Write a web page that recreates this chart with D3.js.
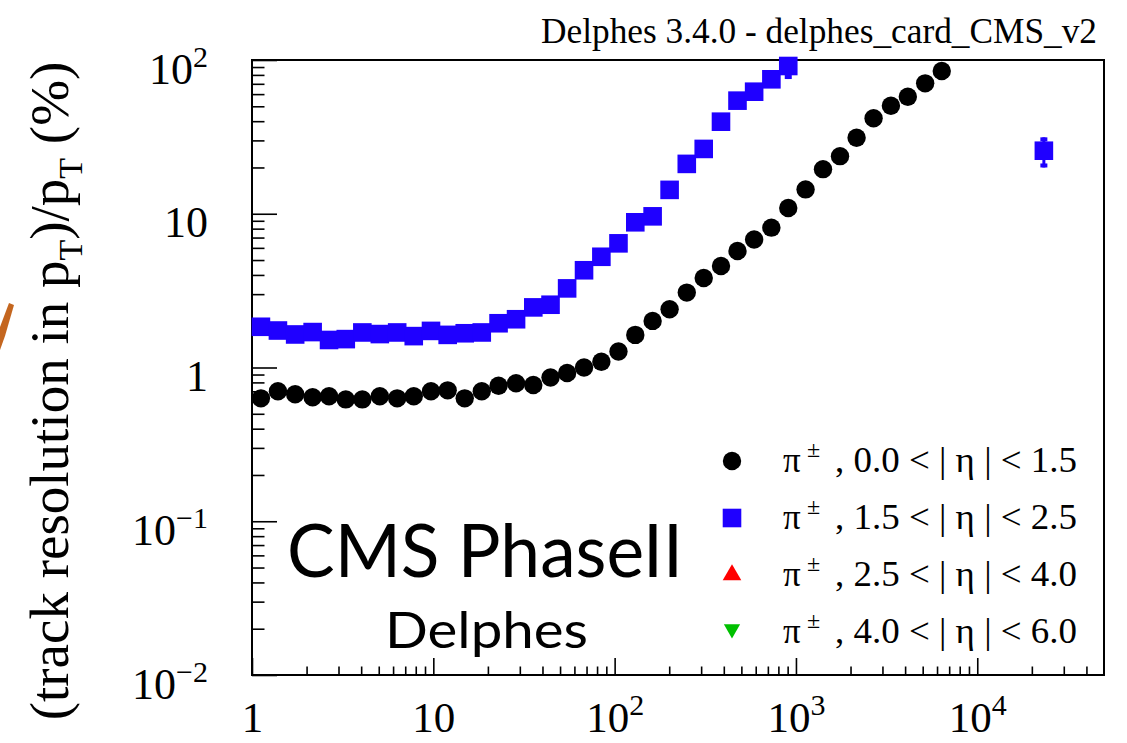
<!DOCTYPE html>
<html>
<head>
<meta charset="utf-8">
<script src="https://cdn.jsdelivr.net/npm/d3@7"></script>
<style>
  html, body { margin: 0; padding: 0; background: #fff; }
  svg { display: block; }
</style>
</head>
<body>
<div id="chart"></div>
<script>
// pT bin centres (GeV)
var ptBins = [1.12, 1.39, 1.73, 2.16, 2.66, 3.29, 4.06, 5.07, 6.32, 7.80,
    9.71, 12.0, 14.9, 18.5, 22.9, 28.6, 35.6, 44.3, 54.7, 67.8,
    84.5, 105, 130, 162, 201, 250, 310, 386, 476, 588,
    732, 907, 1130, 1410, 1750, 2160, 2680, 3340, 4140, 5160, 6370];

// resolution (%) for pi+-, 0.0 < |eta| < 1.5
var resBarrel = [0.63, 0.70, 0.67, 0.64, 0.65, 0.62, 0.62, 0.65, 0.63, 0.65,
    0.70, 0.71, 0.63, 0.70, 0.76, 0.79, 0.77, 0.86, 0.92, 1.00,
    1.09, 1.27, 1.63, 2.01, 2.39, 3.07, 3.82, 4.57, 5.73, 6.80,
    8.12, 10.9, 14.4, 19.5, 23.7, 31.2, 41.8, 50.4, 57.7, 70.5, 84.8];

// resolution (%) for pi+-, 1.5 < |eta| < 2.5 (first 32 bins)
var resEndcap = [1.84, 1.74, 1.64, 1.70, 1.51, 1.53, 1.69, 1.65, 1.69, 1.60,
    1.73, 1.63, 1.67, 1.69, 1.94, 2.06, 2.46, 2.56, 3.27, 4.29,
    5.25, 6.42, 8.80, 9.62, 14.3, 21.1, 26.4, 39.7, 54.4, 62.2,
    74.9, 91.4];
// lone high pT endcap point
var ptEndcapExtra = [23300];
var resEndcapExtra = [25.7];

// visible error bars of the endcap series
var errPt = [907, 23300];
var errLo = [75.2, 20.0];
var errHi = [108, 31.4];

// forward series have no point inside the frame
var resForward = [];
var resVeryForward = [];

var legendLabels = ['0.0 < | \u03b7 | < 1.5', '1.5 < | \u03b7 | < 2.5',
    '2.5 < | \u03b7 | < 4.0', '4.0 < | \u03b7 | < 6.0'];

var xMajor = [1, 10, 100, 1000, 10000];
var yMajor = [0.01, 0.1, 1, 10, 100];

var chartWidth = 1127,
    chartHeight = 743,
    frameLeft = 252,
    frameRight = 1104,
    frameTop = 60,
    frameBottom = 675;

var serif = "'Liberation Serif', 'Times New Roman', serif";
var blue = '#1f00ff';

var svg = d3.select('#chart')
    .append('svg')
        .attr('width', chartWidth)
        .attr('height', chartHeight);

var x = d3.scaleLog()
    .domain([1, 5e4])
    .range([frameLeft, frameRight]);
var y = d3.scaleLog()
    .domain([1e-2, 1e2])
    .range([frameBottom, frameTop]);

// minor ticks 2..9 per decade
function minors(lo, hi) {
  var out = [];
  for(var d = lo; d < hi; d *= 10) {
    for(var k = 2; k <= 9; k++) {
      if(d * k < hi) out.push(d * k);
    }
  }
  return out;
}

// "1", "10", "10^n" labels
function powLabel(sel, supSize, supDy) {
  sel.each(function(d) {
    var e = Math.round(Math.log10(d));
    var t = d3.select(this).text(null);
    if(e === 0) {
      t.text('1');
    } else if(e === 1) {
      t.text('10');
    } else {
      t.append('tspan').text('10');
      t.append('tspan')
          .attr('font-size', supSize)
          .attr('dy', supDy)
          .text(e < 0 ? '\u2212' + (-e) : String(e));
    }
  });
}

// frame
svg.append('rect')
    .attr('x', frameLeft)
    .attr('y', frameTop)
    .attr('width', frameRight - frameLeft)
    .attr('height', frameBottom - frameTop)
    .attr('fill', 'none')
    .attr('stroke', '#000')
    .attr('stroke-width', 2);

// y axis
var yg = svg.append('g')
    .attr('transform', 'translate(' + frameLeft + ',0)');
yg.append('g')
    .call(d3.axisLeft(y).tickValues(minors(0.01, 100))
        .tickSizeInner(-12.5).tickSizeOuter(0).tickFormat(''));
var yMaj = yg.append('g')
    .call(d3.axisLeft(y).tickValues(yMajor)
        .tickSizeInner(-25).tickSizeOuter(0).tickPadding(44));
yg.selectAll('.domain').remove();
yg.selectAll('.tick line')
    .attr('stroke', '#000')
    .attr('stroke-width', 1.6);
yMaj.attr('font-family', serif)
    .attr('font-size', 44);
yMaj.selectAll('.tick text')
    .attr('dy', 23)
    .attr('fill', '#000')
    .call(powLabel, 30, -17);

// x axis
var xg = svg.append('g')
    .attr('transform', 'translate(0,' + frameBottom + ')');
xg.append('g')
    .call(d3.axisBottom(x).tickValues(minors(1, 5e4))
        .tickSizeInner(-8.5).tickSizeOuter(0).tickFormat(''));
var xMaj = xg.append('g')
    .call(d3.axisBottom(x).tickValues(xMajor)
        .tickSizeInner(-17).tickSizeOuter(0).tickPadding(57));
xg.selectAll('.domain').remove();
xg.selectAll('.tick line')
    .attr('stroke', '#000')
    .attr('stroke-width', 1.6);
xMaj.attr('font-family', serif)
    .attr('font-size', 43);
xMaj.selectAll('.tick text')
    .attr('dy', 0)
    .attr('fill', '#000')
    .call(powLabel, 30, -17);

// y title
var yTitle = svg.append('text')
    .attr('transform', 'translate(68,391) rotate(-90)')
    .attr('text-anchor', 'middle')
    .attr('font-family', serif)
    .attr('font-size', 55)
    .attr('fill', '#000');
yTitle.append('tspan').text('(track resolution in p');
yTitle.append('tspan').attr('font-size', 34).attr('dy', 14).text('T');
yTitle.append('tspan').attr('dy', -14).text(')/p');
yTitle.append('tspan').attr('font-size', 34).attr('dy', 14).text('T');
yTitle.append('tspan').attr('dy', -14).text(' (%)');

// top title
svg.append('text')
    .attr('x', 541)
    .attr('y', 43)
    .attr('font-family', serif)
    .attr('font-size', 35)
    .attr('textLength', 556)
    .attr('lengthAdjust', 'spacingAndGlyphs')
    .text('Delphes 3.4.0 - delphes_card_CMS_v2');

// error bars (clipped to frame)
var errGroup = svg.append('g')
    .attr('fill', blue)
    .attr('stroke', blue);
errPt.forEach(function(p, i) {
  var yl = y(errLo[i]),
      yh = y(Math.min(errHi[i], 100));
  errGroup.append('line')
      .attr('x1', x(p)).attr('x2', x(p))
      .attr('y1', yl).attr('y2', yh)
      .attr('stroke-width', 3);
  errGroup.append('rect')
      .attr('x', x(p) - 3.5).attr('y', yl - 4)
      .attr('width', 7).attr('height', 4)
      .attr('stroke', 'none');
  if(errHi[i] < 100) {
    errGroup.append('rect')
        .attr('x', x(p) - 3.5).attr('y', yh)
        .attr('width', 7).attr('height', 4)
        .attr('stroke', 'none');
  }
});

var circle = d3.symbol().type(d3.symbolCircle).size(Math.PI * 9.2 * 9.2);
var square = d3.symbol().type(d3.symbolSquare).size(18.6 * 18.6);
var triangle = d3.symbol().type(d3.symbolTriangle).size(150);
var triangleDown = d3.symbol().type(d3.symbolTriangle).size(115);

// endcap squares
svg.append('g')
    .selectAll('path')
    .data(resEndcap.map(function(v, i) { return [ptBins[i], v]; })
        .concat(ptEndcapExtra.map(function(p, i) { return [p, resEndcapExtra[i]]; })))
    .enter().append('path')
        .attr('d', square)
        .attr('transform', function(d) { return 'translate(' + x(d[0]) + ',' + y(d[1]) + ')'; })
        .attr('fill', blue);

// barrel circles
svg.append('g')
    .selectAll('path')
    .data(resBarrel.map(function(v, i) { return [ptBins[i], v]; }))
    .enter().append('path')
        .attr('d', circle)
        .attr('transform', function(d) { return 'translate(' + x(d[0]) + ',' + y(d[1]) + ')'; })
        .attr('fill', '#000');

// forward series (empty)
svg.append('g').selectAll('path')
    .data(resForward.map(function(v, i) { return [ptBins[i], v]; }))
    .enter().append('path')
        .attr('d', triangle)
        .attr('transform', function(d) { return 'translate(' + x(d[0]) + ',' + y(d[1]) + ')'; })
        .attr('fill', '#ff0000');
svg.append('g').selectAll('path')
    .data(resVeryForward.map(function(v, i) { return [ptBins[i], v]; }))
    .enter().append('path')
        .attr('d', triangleDown)
        .attr('transform', function(d) { return 'translate(' + x(d[0]) + ',' + y(d[1]) + ') rotate(180)'; })
        .attr('fill', '#00c000');

// legend
var legendMarks = [
  {sym: circle, color: '#000', rot: 0},
  {sym: square, color: blue, rot: 0},
  {sym: triangle, color: '#ff0000', rot: 0},
  {sym: triangleDown, color: '#00c000', rot: 180}
];
var legend = svg.append('g')
    .attr('font-family', serif)
    .attr('fill', '#000');
legendLabels.forEach(function(label, i) {
  var cy = 459 + i * 57;
  var m = legendMarks[i];
  legend.append('path')
      .attr('d', m.sym)
      .attr('transform', 'translate(732,' + (cy + (m.rot ? -1 : 2)) + ') rotate(' + m.rot + ')')
      .attr('fill', m.color);
  legend.append('text')
      .attr('x', 783)
      .attr('y', cy + 13)
      .attr('font-size', 35)
      .text('\u03c0');
  legend.append('text')
      .attr('x', 807)
      .attr('y', cy - 2)
      .attr('font-size', 24)
      .text('\u00b1');
  legend.append('text')
      .attr('x', 835)
      .attr('y', cy + 13)
      .attr('font-size', 35)
      .attr('textLength', 242)
      .attr('lengthAdjust', 'spacingAndGlyphs')
      .text(', ' + label);
});

// watermark text
svg.append('text')
    .attr('x', 287)
    .attr('y', 577)
    .attr('font-family', 'Lato, sans-serif')
    .attr('font-size', 74)
    .attr('textLength', 396)
    .attr('lengthAdjust', 'spacingAndGlyphs')
    .text('CMS PhaseII');
svg.append('text')
    .attr('x', 385)
    .attr('y', 648)
    .attr('font-family', 'Lato, sans-serif')
    .attr('font-size', 51)
    .attr('textLength', 203)
    .attr('lengthAdjust', 'spacingAndGlyphs')
    .text('Delphes');

// orange stroke at the left edge
svg.append('path')
    .attr('d', 'M0,350 L0,327 L9,303 L14,305 L5,336 Z')
    .attr('fill', '#c4661f');
</script>
</body>
</html>
